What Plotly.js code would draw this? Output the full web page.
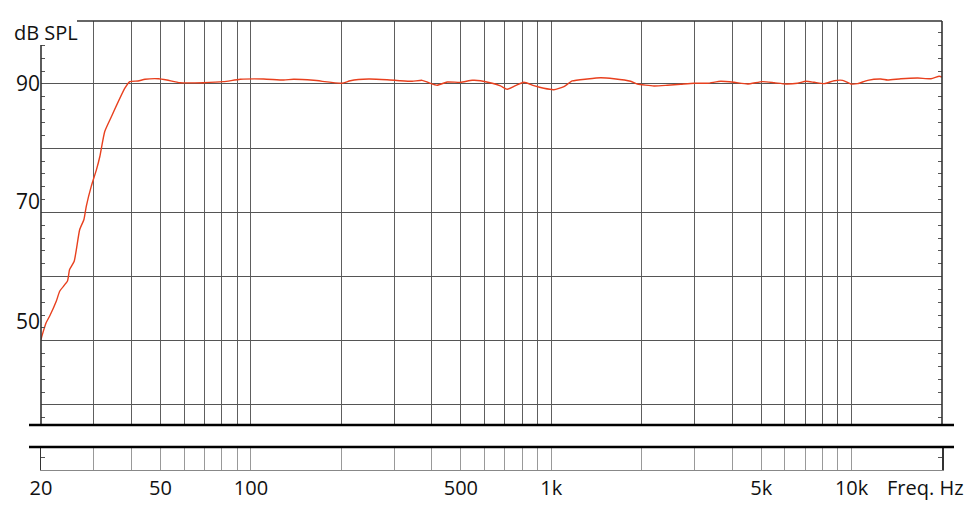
<!DOCTYPE html>
<html>
<head>
<meta charset="utf-8">
<script src="https://cdn.plot.ly/plotly-3.0.1.min.js"></script>
<style>
  html, body { margin: 0; padding: 0; background: #fff; }
  #chart { width: 977px; height: 508px; }
</style>
</head>
<body>
<div id="chart"></div>
<script>
const freqHz = [
  20, 20.15, 20.8, 21.4, 22.5, 23.1, 24.5, 24.9, 25.8, 26.9, 27.8, 28.3, 29.4,
  30.6, 31.4, 32.6, 34.3, 38.0, 39.5, 42.1, 44.4, 49.2, 52.5, 58.1, 69.5,
  81.1, 92.1, 110.2, 128.5, 138.7, 161.7, 201, 214.3, 246.6, 284, 314.6,
  344.2, 371.6, 390.8, 416.9, 450.2, 498.6, 545.5, 581.4, 636, 677.6, 713.4,
  760.4, 810.4, 875, 944.8, 1020, 1102, 1175, 1318, 1460, 1617, 1838, 1935,
  2198, 2436, 2698, 2988, 3311, 3668, 4062, 4502, 5051, 5521, 6040, 6607,
  7042, 7506, 8105, 8750, 9333, 9950, 10470, 11310, 12520, 13180, 14600,
  16600, 18380, 19590, 20000
];
const splDb = [
  50.2, 50.76, 52.8, 53.9, 56.2, 57.75, 59.3, 61.1, 62.4, 67.3, 68.9, 70.95, 74.05,
  76.65, 78.7, 82.6, 84.9, 89.3, 90.36, 90.47, 90.73, 90.82, 90.62, 90.2, 90.2,
  90.36, 90.73, 90.78, 90.62, 90.73, 90.57, 90.11, 90.51, 90.78, 90.67, 90.51,
  90.42, 90.57, 90.2, 89.8, 90.31, 90.26, 90.57, 90.51, 90.11, 89.69, 89.18,
  89.74, 90.26, 89.74, 89.33, 89.11, 89.58, 90.47, 90.78, 90.98, 90.82, 90.42, 90.0,
  89.69, 89.8, 89.95, 90.11, 90.11, 90.42, 90.26, 90.0, 90.36, 90.2, 90.0, 90.11,
  90.42, 90.26, 90.05, 90.51, 90.57, 90.0, 90.05, 90.57, 90.78, 90.62, 90.82,
  90.93, 90.82, 91.2, 91.09
];

// axes
const gridFreqs = [
  20, 30, 40, 50, 60, 70, 80, 90,
  100, 200, 300, 400, 500, 600, 700, 800, 900,
  1000, 2000, 3000, 4000, 5000, 6000, 7000, 8000, 9000,
  10000, 20000
];
const freqLabels = {20: "20", 50: "50", 100: "100", 500: "500", 1000: "1k", 5000: "5k", 10000: "10k"};
const gridDb = [40, 50, 60, 70, 80, 90];
const leftTickDb = [38, 40, 42, 44, 46, 48, 50, 52, 54, 56, 58, 60, 62, 64, 66, 68, 70,
  72, 74, 76, 78, 80, 82, 84, 86, 88, 90, 92, 94, 96];
const rightTickDb = leftTickDb.concat([98]);
const dbLabelPos = [90, 71.67, 52.98];
const dbLabelText = ["90", "70", "50"];
const dbRange = [36.88, 99.81];
const lowerRange = [28, 31.58];
const lowerTicks = [30];

const font = "'Open Sans', 'Noto Sans', sans-serif";
const ink = "#333";

// pixel frame: plot spans x 41..942, y 21..470
const W = 977, H = 508, L = 41, R = 942, T = 21, B = 470;
const px = (x) => (x - L) / (R - L);
const py = (y) => (B - y) / (B - T);
const mainBottom = py(425);
const lowerTop = py(447);

const xBase = {
  type: "log",
  range: [Math.log10(20), Math.log10(20000)],
  tickmode: "array",
  tickvals: gridFreqs,
  showline: false,
  zeroline: false,
  fixedrange: true,
};

const tickAxis = (side, vals) => ({
  overlaying: "y",
  anchor: "x",
  side: side,
  range: dbRange,
  tickmode: "array",
  tickvals: vals,
  ticks: "inside",
  ticklen: 4,
  tickwidth: 1,
  tickcolor: "#555",
  showgrid: false,
  showline: false,
  zeroline: false,
  showticklabels: false,
});

const layout = {
  width: W,
  height: H,
  margin: { l: L, r: W - R, t: T, b: H - B, pad: 0 },
  paper_bgcolor: "#fff",
  plot_bgcolor: "#fff",
  showlegend: false,
  xaxis: Object.assign({}, xBase, {
    anchor: "y",
    showticklabels: false,
    ticks: "",
    showgrid: true,
    gridcolor: "#5e5e5e",
    gridwidth: 1,
  }),
  xaxis2: Object.assign({}, xBase, {
    anchor: "y5",
    matches: "x",
    ticks: "",
    ticktext: gridFreqs.map((f) => freqLabels[f] || ""),
    tickfont: { family: font, size: 20, color: "#111" },
    showgrid: true,
    gridcolor: "#999",
    gridwidth: 1,
    showline: true,
    linecolor: "#888",
    linewidth: 1.2,
  }),
  yaxis: {
    domain: [mainBottom, 1],
    range: dbRange,
    tickmode: "array",
    tickvals: gridDb,
    ticks: "",
    showticklabels: false,
    showgrid: true,
    gridcolor: "#555",
    gridwidth: 1,
    zeroline: false,
    showline: false,
    fixedrange: true,
  },
  yaxis2: tickAxis("left", leftTickDb),
  yaxis3: tickAxis("right", rightTickDb),
  yaxis4: {
    overlaying: "y",
    anchor: "x",
    side: "left",
    range: dbRange,
    tickmode: "array",
    tickvals: dbLabelPos,
    ticktext: dbLabelText,
    ticks: "",
    tickfont: { family: font, size: 21, color: "#111" },
    showgrid: false,
    zeroline: false,
    showline: false,
  },
  yaxis5: {
    domain: [0, lowerTop],
    range: lowerRange,
    tickmode: "array",
    tickvals: lowerTicks,
    ticks: "inside",
    ticklen: 4,
    tickcolor: "#555",
    showticklabels: false,
    showgrid: false,
    zeroline: false,
    showline: true,
    mirror: "ticks",
    linecolor: ink,
    linewidth: 1.5,
    fixedrange: true,
  },
  shapes: [
    // open frame of the upper panel
    { type: "line", xref: "paper", yref: "paper", x0: px(77), x1: 1, y0: 1, y1: 1, line: { color: ink, width: 1.6 } },
    { type: "line", xref: "paper", yref: "paper", x0: 0, x1: 0, y0: py(45), y1: mainBottom, line: { color: ink, width: 1.6 } },
    { type: "line", xref: "paper", yref: "paper", x0: 1, x1: 1, y0: mainBottom, y1: 1, line: { color: ink, width: 1.6 } },
    // axis break
    { type: "line", xref: "paper", yref: "paper", x0: px(29), x1: px(954), y0: mainBottom, y1: mainBottom, line: { color: "#000", width: 2.6 } },
    { type: "line", xref: "paper", yref: "paper", x0: px(29), x1: px(954), y0: lowerTop, y1: lowerTop, line: { color: "#000", width: 2.6 } },
  ],
  annotations: [
    { xref: "paper", yref: "paper", x: px(12), y: py(33), xanchor: "left", yanchor: "middle",
      text: "dB SPL", showarrow: false, font: { family: font, size: 20, color: "#111" } },
    { xref: "paper", yref: "paper", x: px(885), y: py(487), xanchor: "left", yanchor: "middle",
      text: "Freq. Hz", showarrow: false, font: { family: font, size: 20, color: "#111" } },
  ],
};

// invisible placeholder traces so every overlay axis gets drawn
const holder = (xa, ya, yv) => ({
  type: "scatter", mode: "none", x: [1000], y: [yv], xaxis: xa, yaxis: ya, hoverinfo: "skip",
});

const traces = [
  {
    type: "scatter",
    mode: "lines",
    x: freqHz,
    y: splDb,
    xaxis: "x",
    yaxis: "y",
    line: { color: "#e8401e", width: 1.4, shape: "spline", smoothing: 0.5 },
    hoverinfo: "x+y",
  },
  holder("x", "y2", 60),
  holder("x", "y3", 60),
  holder("x", "y4", 60),
  holder("x2", "y5", 29),
];

Plotly.newPlot("chart", traces, layout, { displayModeBar: false, staticPlot: true });
</script>
</body>
</html>
